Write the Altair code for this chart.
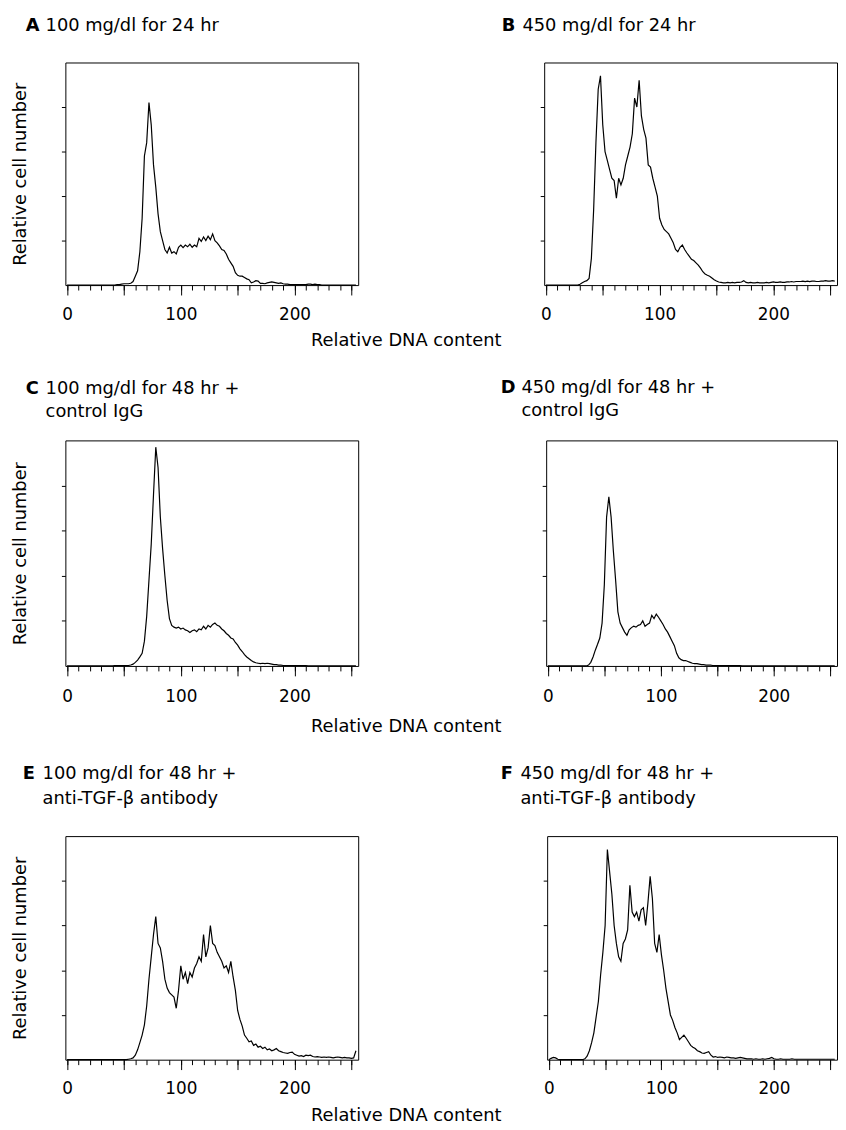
import altair as alt
import pandas as pd

FONT = "DejaVu Sans"
CHANNELS = list(range(0, 256, 2))
X_TICKS_MINOR = list(range(0, 251, 10))
X_TICKS_MAJOR = [0, 50, 100, 150, 200, 250]
Y_TICKS = [1, 2, 3, 4]
X_TITLE = "Relative DNA content"
Y_TITLE = "Relative cell number"
LETTERS = ["A", "B", "C", "D", "E", "F"]
TITLE_LINE1 = ["100 mg/dl for 24 hr", "450 mg/dl for 24 hr",
               "100 mg/dl for 48 hr +", "450 mg/dl for 48 hr +",
               "100 mg/dl for 48 hr +", "450 mg/dl for 48 hr +"]
TITLE_LINE2 = ["", "", "control IgG", "control IgG",
               "anti-TGF-β antibody", "anti-TGF-β antibody"]

A_VALUES = [
    0, 0, 0, 0, 0, 0, 0, 0, 0, 0, 0, 0, 0, 0, 0, 0,
    0, 0, 0, 0, 0, 0, 0.01, 0.01, 0.02, 0.03, 0.03, 0.03, 0.04, 0.08, 0.2, 0.32,
    0.75, 1.5, 2.9, 3.2, 4.1, 3.6, 2.7, 2.2, 1.6, 1.2, 1.0, 0.8, 0.72, 0.85, 0.72, 0.75,
    0.7, 0.85, 0.9, 0.84, 0.9, 0.86, 0.92, 0.85, 0.9, 0.86, 1.05, 0.98, 1.08, 1.0, 1.1, 1.02,
    1.15, 1.0, 0.95, 0.88, 0.8, 0.78, 0.7, 0.58, 0.5, 0.42, 0.28, 0.22, 0.2, 0.2, 0.17, 0.14,
    0.12, 0.05, 0.07, 0.1, 0.09, 0.04, 0.04, 0.03, 0.05, 0.06, 0.07, 0.06, 0.05, 0.04, 0.05, 0.03,
    0.02, 0.02, 0.01, 0.01, 0.01, 0.01, 0.01, 0.01, 0.01, 0.01, 0.02, 0.02, 0.01, 0.02, 0.01, 0.01,
    0, 0, 0, 0, 0, 0, 0, 0, 0, 0, 0, 0, 0, 0, 0, 0,
]
B_VALUES = [
    0, 0, 0, 0, 0, 0, 0, 0, 0, 0, 0, 0, 0, 0, 0, 0.02,
    0.05, 0.08, 0.1, 0.15, 0.6, 1.7, 3.2, 4.4, 4.7, 3.6, 3.0, 2.8, 2.6, 2.4, 2.35, 1.95,
    2.4, 2.25, 2.4, 2.7, 2.9, 3.1, 3.4, 4.2, 4.0, 4.6, 3.8, 3.5, 3.3, 2.7, 2.65, 2.4,
    2.2, 2.0, 1.5, 1.35, 1.25, 1.2, 1.15, 1.05, 0.95, 0.8, 0.75, 0.85, 0.9, 0.8, 0.72, 0.65,
    0.58, 0.55, 0.5, 0.45, 0.38, 0.3, 0.25, 0.22, 0.2, 0.16, 0.12, 0.09, 0.07, 0.06, 0.05, 0.05,
    0.06, 0.05, 0.06, 0.05, 0.06, 0.06, 0.07, 0.1, 0.06, 0.05, 0.06, 0.05, 0.05, 0.06, 0.05, 0.05,
    0.05, 0.06, 0.05, 0.06, 0.07, 0.06, 0.06, 0.07, 0.06, 0.06, 0.07, 0.07, 0.08, 0.07, 0.08, 0.08,
    0.08, 0.09, 0.08, 0.09, 0.08, 0.09, 0.09, 0.08, 0.08, 0.09, 0.09, 0.1, 0.09, 0.09, 0.1, 0.09,
]
C_VALUES = [
    0, 0, 0, 0, 0, 0, 0, 0, 0, 0, 0, 0, 0, 0, 0, 0,
    0, 0, 0, 0, 0, 0.01, 0.01, 0.01, 0.01, 0.01, 0.01, 0.01, 0.02, 0.04, 0.08, 0.13,
    0.2, 0.28, 0.55, 1.1, 1.9, 2.7, 3.8, 4.85, 4.4, 3.3, 2.6, 2.0, 1.45, 1.05, 0.9, 0.86,
    0.84, 0.86, 0.82, 0.84, 0.8, 0.78, 0.74, 0.78, 0.8, 0.76, 0.82, 0.8, 0.88, 0.82, 0.9, 0.86,
    0.92, 0.95, 0.9, 0.88, 0.82, 0.78, 0.72, 0.68, 0.62, 0.6, 0.52, 0.46, 0.38, 0.32, 0.25, 0.2,
    0.16, 0.12, 0.09, 0.07, 0.06, 0.05, 0.06, 0.05, 0.06, 0.05, 0.04, 0.03, 0.03, 0.02, 0.02, 0.01,
    0.01, 0.01, 0.01, 0.01, 0.01, 0.01, 0.01, 0.01, 0.01, 0.01, 0, 0, 0, 0, 0, 0,
    0, 0, 0, 0, 0, 0, 0, 0, 0, 0, 0, 0, 0, 0, 0, 0,
]
D_VALUES = [
    0, 0, 0, 0, 0, 0, 0, 0, 0, 0, 0, 0, 0, 0, 0, 0,
    0, 0, 0.02, 0.08, 0.2, 0.35, 0.48, 0.62, 0.95, 1.8, 3.3, 3.75, 3.3, 2.55, 1.9, 1.2,
    0.95, 0.85, 0.75, 0.68, 0.8, 0.85, 0.88, 0.86, 0.9, 0.92, 1.0, 0.88, 0.92, 0.95, 1.12, 1.05,
    1.15, 1.08, 1.0, 0.92, 0.82, 0.75, 0.65, 0.55, 0.45, 0.28, 0.18, 0.14, 0.12, 0.12, 0.1, 0.08,
    0.06, 0.05, 0.05, 0.04, 0.03, 0.03, 0.02, 0.02, 0.02, 0.01, 0.01, 0.01, 0.01, 0.01, 0.01, 0.01,
    0.01, 0.01, 0.01, 0.01, 0.01, 0.01, 0, 0, 0, 0, 0, 0, 0, 0, 0, 0,
    0, 0, 0, 0, 0, 0, 0, 0, 0, 0, 0, 0, 0, 0, 0, 0,
    0, 0, 0, 0, 0, 0, 0, 0, 0, 0, 0, 0, 0, 0, 0, 0,
]
E_VALUES = [
    0, 0, 0, 0, 0, 0, 0, 0, 0, 0, 0, 0, 0, 0, 0, 0,
    0, 0, 0, 0, 0, 0, 0, 0, 0, 0, 0, 0.01, 0.02, 0.04, 0.1, 0.22,
    0.38, 0.55, 0.78, 1.2, 1.8, 2.3, 2.8, 3.2, 2.6, 2.5, 2.2, 1.8, 1.6, 1.5, 1.45, 1.4,
    1.15, 1.55, 2.1, 1.8, 1.95, 1.7, 1.95, 1.85, 2.05, 2.15, 2.3, 2.2, 2.8, 2.3, 2.5, 3.0,
    2.6, 2.55, 2.4, 2.3, 2.2, 2.05, 2.1, 1.95, 2.2, 1.85, 1.55, 1.1, 0.9, 0.75, 0.55, 0.48,
    0.4, 0.42, 0.32, 0.35, 0.28, 0.3, 0.25, 0.28, 0.22, 0.24, 0.2, 0.22, 0.25, 0.2, 0.18, 0.16,
    0.15, 0.14, 0.16, 0.17, 0.12, 0.1, 0.08, 0.09, 0.07, 0.1, 0.09, 0.1, 0.07, 0.06, 0.07, 0.06,
    0.05, 0.06, 0.05, 0.06, 0.05, 0.04, 0.05, 0.06, 0.05, 0.04, 0.05, 0.04, 0.04, 0.03, 0.04, 0.2,
]
F_VALUES = [
    0, 0.03, 0.05, 0.04, 0.01, 0, 0, 0, 0, 0, 0, 0, 0, 0, 0, 0,
    0.02, 0.08, 0.2, 0.38, 0.6, 0.95, 1.3, 1.9, 2.4, 3.0, 4.7, 4.2, 3.7, 3.0, 2.6, 2.3,
    2.2, 2.6, 2.7, 2.9, 3.9, 3.3, 3.2, 3.3, 3.1, 3.35, 3.4, 3.0, 3.5, 4.1, 3.6, 2.6,
    2.4, 2.8, 2.35, 2.0, 1.6, 1.3, 1.0, 0.88, 0.72, 0.6, 0.45, 0.5, 0.55, 0.48, 0.4, 0.32,
    0.28, 0.25, 0.2, 0.18, 0.15, 0.14, 0.16, 0.18, 0.1, 0.06, 0.07, 0.05, 0.06, 0.05, 0.04, 0.06,
    0.05, 0.04, 0.04, 0.03, 0.04, 0.05, 0.04, 0.03, 0.02, 0.02, 0.02, 0.01, 0.02, 0.01, 0.01, 0.02,
    0.01, 0.02, 0.03, 0.05, 0.02, 0.01, 0.01, 0.02, 0.01, 0.01, 0.01, 0.01, 0.02, 0.01, 0.01, 0.01,
    0.01, 0.01, 0.01, 0.01, 0.01, 0.01, 0.01, 0.01, 0.01, 0.01, 0.01, 0.01, 0.01, 0.01, 0.01, 0.01,
]
ALL_VALUES = [A_VALUES, B_VALUES, C_VALUES, D_VALUES, E_VALUES, F_VALUES]
for v in ALL_VALUES:
    assert len(v) == len(CHANNELS), len(v)

X_SCALE = alt.Scale(domain=[-1.5, 256], nice=False, zero=False)
Y_SCALE = alt.Scale(domain=[0, 5], nice=False)


def panel(idx, width, height, left, label_pad, xt_y,
          letter_x, text_x, text_y, line_h):
    df = pd.DataFrame({"channel": CHANNELS, "count": ALL_VALUES[idx]})
    xkw = dict(values=X_TICKS_MINOR, orient="bottom",
               labelExpr="datum.value % 100 === 0 ? datum.label : ''",
               tickSize=5, labelPadding=label_pad, domain=False, grid=False)
    if left:
        xkw.update(title=X_TITLE, titleX=344, titleY=xt_y,
                   titleAlign="center", titleBaseline="middle")
    else:
        xkw.update(title=None)
    ykw = dict(values=Y_TICKS, labels=False, tickSize=4, domain=False, grid=False)
    if left:
        ykw.update(title=Y_TITLE, titlePadding=32)
    else:
        ykw.update(title=None)

    line = alt.Chart(df).mark_line(color="black", strokeWidth=1.2).encode(
        x=alt.X("channel:Q", scale=X_SCALE, axis=alt.Axis(**xkw)),
        y=alt.Y("count:Q", scale=Y_SCALE, axis=alt.Axis(**ykw)),
    )
    major = alt.Chart(df).mark_rule(opacity=0).encode(
        x=alt.X("channel:Q", scale=X_SCALE,
                axis=alt.Axis(values=X_TICKS_MAJOR, orient="bottom", tickSize=10,
                              labels=False, domain=False, grid=False, title=None)),
    )
    desc_text = TITLE_LINE1[idx] + ("\n" + TITLE_LINE2[idx] if TITLE_LINE2[idx] else "")
    lab = pd.DataFrame({"letter": [LETTERS[idx]], "desc": [desc_text]})
    letter = alt.Chart(lab).mark_text(
        align="left", baseline="alphabetic", font=FONT, fontSize=18,
        fontWeight="bold", color="black"
    ).encode(x=alt.value(letter_x), y=alt.value(text_y), text="letter:N")
    desc = alt.Chart(lab).mark_text(
        align="left", baseline="alphabetic", font=FONT, fontSize=18,
        fontWeight="normal", color="black", lineBreak="\n", lineHeight=line_h
    ).encode(x=alt.value(text_x), y=alt.value(text_y), text="desc:N")
    return alt.layer(line, major, letter, desc).resolve_axis(x="independent").properties(
        width=width, height=height)


row1 = alt.hconcat(
    panel(0, 296, 225, True, 17, 56, -40, -20, -31.5, 23),
    panel(1, 296, 225, False, 17, 0, -43, -22, -31.5, 23),
    spacing=188, bounds="flush",
)
row2 = alt.hconcat(
    panel(2, 296, 228, True, 18, 61, -40, -20, -46.5, 23),
    panel(3, 294, 228, False, 18, 0, -46, -25, -47.5, 23),
    spacing=190, bounds="flush",
)
row3 = alt.hconcat(
    panel(4, 296, 226, True, 16, 56, -43, -23, -57.5, 25),
    panel(5, 293, 226, False, 16, 0, -47, -27, -57.5, 25),
    spacing=191, bounds="flush",
)

chart = alt.vconcat(row1, row2, row3, spacing=29, bounds="full").properties(
    padding={"left": 3, "top": 3, "right": 0, "bottom": 0},
    background="white",
).configure_view(
    stroke="black", strokeWidth=1
).configure_axis(
    labelFont=FONT, titleFont=FONT, labelFontSize=17, titleFontSize=18,
    titleFontWeight="normal", labelColor="black", titleColor="black",
    tickColor="black", tickWidth=1,
)

chart.save("out.html", embed_options={"renderer": "svg", "actions": False})
